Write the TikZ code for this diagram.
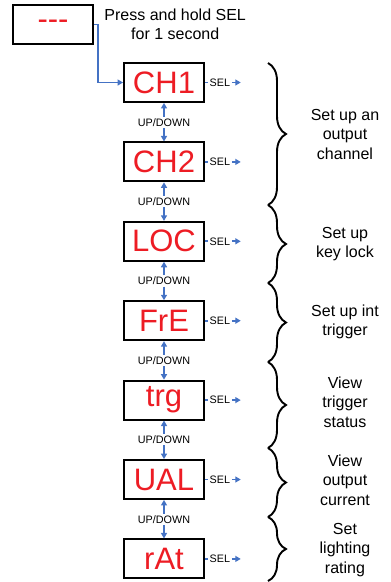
\documentclass[tikz,border=0pt]{standalone}
\usepackage{fontspec}
\setmainfont{Liberation Sans}
\usepackage{tikz}
\usetikzlibrary{positioning, arrows.meta, decorations.pathreplacing}

\definecolor{dispred}{RGB}{237,28,36}
\definecolor{flowblue}{RGB}{68,114,196}

\begin{document}
\begin{tikzpicture}[
  x=1pt, y=1pt,
  node distance=38.5pt,
  disp/.style={
    rectangle, draw, line width=1.9pt,
    minimum width=80pt, minimum height=39pt, inner sep=0pt,
    text=dispred, font=\fontsize{31}{31}\selectfont
  },
  note/.style={align=center, font=\fontsize{16}{19.5}\selectfont},
  small/.style={inner sep=1.5pt, font=\fontsize{10.8}{12}\selectfont},
  link/.style={flowblue, line width=1.7pt},
  arrow/.style={link, -{Triangle[length=5.5pt, width=6pt]}},
  brace/.style={decorate, decoration={brace, amplitude=18pt}, line width=1.9pt}
]
  \useasboundingbox (0,0) rectangle (391,-582);

  % Display boxes
  \node[disp] (start) at (53,-24.5) {-\kern0pt-\kern0pt-};
  \node[note, right=7pt of start] (press) {Press and hold SEL\\ for 1 second};
  \node[disp] (ch1) at (164,-82.5) {CH1};
  \node[disp, below=of ch1] (ch2) {CH2};
  \node[disp, below=of ch2] (loc) {LOC};
  \node[disp, below=of loc] (fre) {FrE};
  \node[disp, below=of fre] (trg) {trg};
  \node[disp, below=of trg] (ual) {UAL};
  \node[disp, below=of ual] (rat) {rAt};

  % Enter the menu
  \draw[arrow] (start.east) -- ++(4,0) |- (ch1.west);

  % UP/DOWN between displays
  \path (ch1) -- (ch2) node[small, midway] (ud1) {UP/DOWN};
  \path (ch2) -- (loc) node[small, midway] (ud2) {UP/DOWN};
  \path (loc) -- (fre) node[small, midway] (ud3) {UP/DOWN};
  \path (fre) -- (trg) node[small, midway] (ud4) {UP/DOWN};
  \path (trg) -- (ual) node[small, midway] (ud5) {UP/DOWN};
  \path (ual) -- (rat) node[small, midway] (ud6) {UP/DOWN};
  \draw[arrow] (ud1) -- (ch1);
  \draw[arrow] (ud1) -- (ch2);
  \draw[arrow] (ud2) -- (ch2);
  \draw[arrow] (ud2) -- (loc);
  \draw[arrow] (ud3) -- (loc);
  \draw[arrow] (ud3) -- (fre);
  \draw[arrow] (ud4) -- (fre);
  \draw[arrow] (ud4) -- (trg);
  \draw[arrow] (ud5) -- (trg);
  \draw[arrow] (ud5) -- (ual);
  \draw[arrow] (ud6) -- (ual);
  \draw[arrow] (ud6) -- (rat);

  % SEL exits
  \foreach \b in {ch1, ch2, loc, fre, trg, ual, rat} {
    \node[small, right=3pt of \b] (\b-sel) {SEL};
    \coordinate[right=9pt of \b-sel.east] (\b-out);
    \draw[link] (\b) -- (\b-sel);
    \draw[arrow] (\b-sel) -- (\b-out);
  }

  % Groups
  \draw[brace] (268,-63) -- (268,-205);
  \draw[brace] (268,-205) -- (268,-283);
  \draw[brace] (268,-283) -- (268,-362);
  \draw[brace] (268,-362) -- (268,-448);
  \draw[brace] (268,-448) -- (268,-517);
  \draw[brace] (268,-517) -- (268,-581);

  \node[note] (chan) at (345,-134) {Set up an\\ output\\ channel};
  \node[note] (lock) at (345,-244) {Set up\\ key lock};
  \node[note] (intr) at (345,-322) {Set up int\\ trigger};
  \node[note] (stat) at (345,-402) {View\\ trigger\\ status};
  \node[note] (curr) at (345,-480) {View\\ output\\ current};
  \node[note] (rate) at (345,-550) {Set\\ lighting\\ rating};
\end{tikzpicture}
\end{document}
